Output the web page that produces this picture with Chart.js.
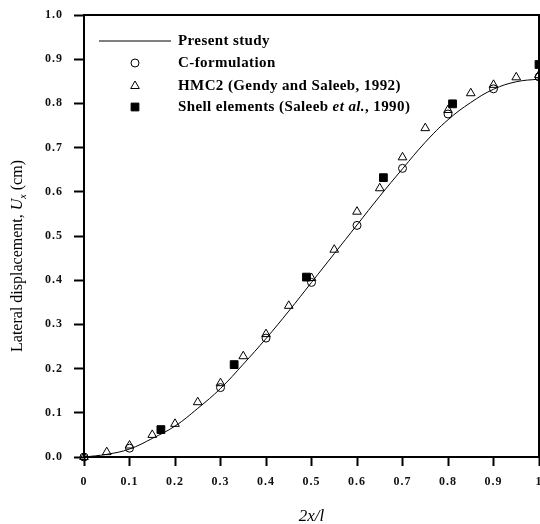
<!DOCTYPE html>
<html>
<head>
<meta charset="utf-8">
<script src="https://cdn.jsdelivr.net/npm/chart.js@4.4.0/dist/chart.umd.min.js"></script>
<style>
  body { margin: 0; background: #fff; }
  #wrap { width: 540px; height: 524px; }
</style>
</head>
<body>
<div id="wrap"><canvas id="chart" width="540" height="524"></canvas></div>
<script>
// Present study (solid curve)
const studyX = [0, 0.05, 0.1, 0.15, 0.2, 0.25, 0.3, 0.35, 0.4, 0.45, 0.5, 0.55, 0.6, 0.65, 0.7, 0.75, 0.8, 0.85, 0.9, 0.95, 1.0];
const studyY = [0, 0.006, 0.018, 0.042, 0.07, 0.11, 0.155, 0.21, 0.268, 0.33, 0.395, 0.46, 0.525, 0.59, 0.652, 0.712, 0.763, 0.802, 0.832, 0.849, 0.855];

// C-formulation (open circles)
const cformX = [0, 0.1, 0.3, 0.4, 0.5, 0.6, 0.7, 0.8, 0.9, 1.0];
const cformY = [0, 0.02, 0.157, 0.269, 0.395, 0.524, 0.653, 0.776, 0.833, 0.86];

// HMC2 (open triangles)
const hmcX = [0, 0.05, 0.1, 0.15, 0.2, 0.25, 0.3, 0.35, 0.4, 0.45, 0.5, 0.55, 0.6, 0.65, 0.7, 0.75, 0.8, 0.85, 0.9, 0.95, 1.0];
const hmcY = [0, 0.011, 0.026, 0.05, 0.075, 0.124, 0.167, 0.228, 0.278, 0.342, 0.405, 0.469, 0.555, 0.608, 0.678, 0.744, 0.785, 0.823, 0.842, 0.859, 0.864];

// Shell elements (filled squares)
const shellX = [0.169, 0.33, 0.489, 0.658, 0.81, 1.0];
const shellY = [0.062, 0.209, 0.407, 0.632, 0.799, 0.888];

const legendLabels = ['Present study', 'C-formulation', 'HMC2 (Gendy and Saleeb, 1992)', 'Shell elements (Saleeb et al., 1990)'];

const toPts = (xs, ys) => xs.map((x, i) => ({ x: x, y: ys[i] }));
const serif = '"Liberation Serif", "DejaVu Serif", serif';

// frame, axis titles and in-plot legend
const decor = {
    id: 'decor',
    beforeDraw(chart) {
        // spaced-out tick digits like the scanned figure
        chart.ctx.letterSpacing = '1px';
    },
    afterDraw(chart) {
        const ctx = chart.ctx;
        const a = chart.chartArea;
        ctx.letterSpacing = '0px';
        ctx.save();
        ctx.strokeStyle = '#000';
        ctx.lineWidth = 2;
        ctx.strokeRect(a.left, a.top, a.right - a.left, a.bottom - a.top);

        // x title
        ctx.fillStyle = '#000';
        ctx.font = 'italic 17px ' + serif;
        ctx.textAlign = 'center';
        ctx.textBaseline = 'alphabetic';
        ctx.fillText('2x/l', (a.left + a.right) / 2, 521);

        // y title with italic U and subscript x
        ctx.translate(22, 256);
        ctx.rotate(-Math.PI / 2);
        const parts = [
            { t: 'Lateral displacement, ', f: '16px ' + serif, dy: 0 },
            { t: 'U', f: 'italic 16px ' + serif, dy: 0 },
            { t: 'x', f: 'italic 10px ' + serif, dy: 4 },
            { t: ' (cm)', f: '16px ' + serif, dy: 0 }
        ];
        let total = 0;
        parts.forEach(p => { ctx.font = p.f; p.w = ctx.measureText(p.t).width; total += p.w; });
        let cx = -total / 2;
        ctx.textAlign = 'left';
        parts.forEach(p => { ctx.font = p.f; ctx.fillText(p.t, cx, p.dy); cx += p.w; });
        ctx.restore();

        // legend
        ctx.save();
        const rows = [41, 63, 86, 107];
        const tx = 178;
        ctx.strokeStyle = '#000';
        ctx.lineWidth = 1;
        ctx.beginPath();
        ctx.moveTo(99, rows[0]);
        ctx.lineTo(171, rows[0]);
        ctx.stroke();
        chart.data.datasets.slice(1).forEach((ds, i) => {
            ctx.fillStyle = ds.pointBackgroundColor;
            ctx.strokeStyle = '#000';
            ctx.lineWidth = 1;
            Chart.helpers.drawPoint(ctx, {
                pointStyle: ds.pointStyle,
                radius: ds.pointRadius,
                borderWidth: 1,
                rotation: 0
            }, 135, rows[i + 1]);
        });
        ctx.fillStyle = '#000';
        ctx.letterSpacing = '0.4px';
        ctx.font = 'bold 15px ' + serif;
        ctx.textBaseline = 'middle';
        ctx.textAlign = 'left';
        for (let i = 0; i < 3; i++) ctx.fillText(legendLabels[i], tx, rows[i]);
        // last label with italic "et al."
        const segs = [
            { t: 'Shell elements (Saleeb ', f: 'bold 15px ' + serif },
            { t: 'et al.', f: 'italic bold 15px ' + serif },
            { t: ', 1990)', f: 'bold 15px ' + serif }
        ];
        let lx = tx;
        segs.forEach(s => { ctx.font = s.f; ctx.fillText(s.t, lx, rows[3]); lx += ctx.measureText(s.t).width; });
        ctx.restore();
    }
};

new Chart(document.getElementById('chart'), {
    type: 'scatter',
    data: {
        datasets: [
            {
                type: 'line',
                label: legendLabels[0],
                data: toPts(studyX, studyY),
                borderColor: '#000',
                borderWidth: 1,
                pointRadius: 0,
                tension: 0.4,
                fill: false,
                clip: false
            },
            {
                label: legendLabels[1],
                data: toPts(cformX, cformY),
                pointStyle: 'circle',
                pointRadius: 4,
                pointBackgroundColor: 'rgba(255,255,255,0)',
                pointBorderColor: '#000',
                pointBorderWidth: 1,
                clip: false
            },
            {
                label: legendLabels[2],
                data: toPts(hmcX, hmcY),
                pointStyle: 'triangle',
                pointRadius: 5,
                pointBackgroundColor: 'rgba(255,255,255,0)',
                pointBorderColor: '#000',
                pointBorderWidth: 1,
                clip: false
            },
            {
                label: legendLabels[3],
                data: toPts(shellX, shellY),
                pointStyle: 'rect',
                pointRadius: 5.5,
                pointBackgroundColor: '#000',
                pointBorderColor: '#000',
                pointBorderWidth: 1,
                clip: false
            }
        ]
    },
    options: {
        responsive: false,
        animation: false,
        layout: { autoPadding: false, padding: { left: 0, top: 15, right: 1, bottom: 0 } },
        plugins: {
            legend: { display: false },
            tooltip: { enabled: false }
        },
        scales: {
            x: {
                type: 'linear',
                min: 0,
                max: 1,
                afterFit: s => { s.height = 67; s.paddingRight = 0; s.paddingLeft = 0; },
                border: { display: true, color: '#000', width: 2 },
                grid: { drawOnChartArea: false, drawTicks: true, tickLength: 9, tickColor: '#000', tickWidth: 2 },
                ticks: {
                    stepSize: 0.1,
                    padding: 9,
                    color: '#111',
                    font: { family: serif, size: 12, weight: 'bold' },
                    callback: v => (v === 0 ? '0' : v === 1 ? '1' : v.toFixed(1))
                }
            },
            y: {
                min: 0,
                max: 1,
                afterFit: s => { s.width = 84; s.paddingTop = 0; s.paddingBottom = 0; },
                border: { display: true, color: '#000', width: 2 },
                grid: { drawOnChartArea: false, drawTicks: true, tickLength: 10, tickColor: '#000', tickWidth: 2 },
                ticks: {
                    stepSize: 0.1,
                    padding: 11,
                    color: '#111',
                    font: { family: serif, size: 12, weight: 'bold' },
                    callback: v => v.toFixed(1)
                }
            }
        }
    },
    plugins: [decor]
});
</script>
</body>
</html>
